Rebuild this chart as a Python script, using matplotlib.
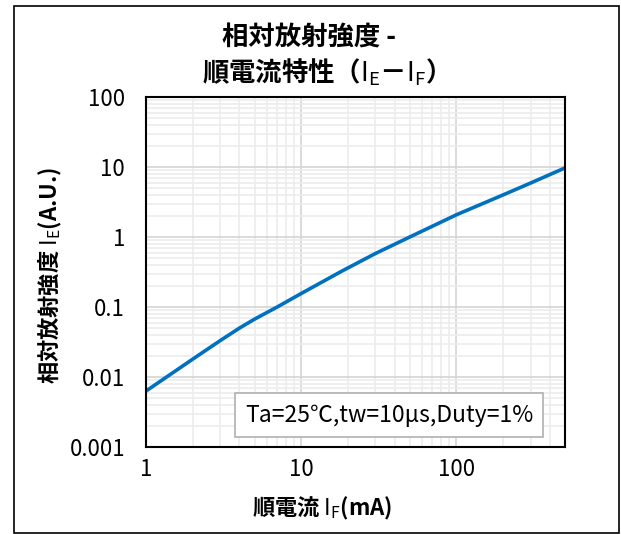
import matplotlib
matplotlib.use("Agg")
import matplotlib.pyplot as plt
from matplotlib.ticker import LogLocator, FixedLocator, FixedFormatter, NullFormatter
from matplotlib.patches import Rectangle

plt.rcParams['font.family'] = ['Noto Sans CJK JP', 'DejaVu Sans']
plt.rcParams['mathtext.fontset'] = 'custom'
plt.rcParams['mathtext.rm'] = 'Noto Sans CJK JP'

# 順電流 IF (mA) と 相対放射強度 IE (A.U.)
if_ma = [1, 2, 3, 4, 5, 7, 10, 18, 30, 50, 100, 200, 300, 500]
ie_au = [0.0063, 0.018, 0.033, 0.05, 0.067, 0.1, 0.156, 0.32, 0.58, 1.0, 2.08, 4.0, 5.9, 9.7]

x_ticks = [1, 10, 100]
x_labels = ["1", "10", "100"]
y_ticks = [0.001, 0.01, 0.1, 1, 10, 100]
y_labels = ["0.001", "0.01", "0.1", "1", "10", "100"]

fig = plt.figure(figsize=(6.21, 5.34), dpi=100)
# 外枠
fig.patches.append(Rectangle((14 / 621, 1 / 534), 605 / 621, 527 / 534,
                             transform=fig.transFigure, fill=False,
                             edgecolor='black', linewidth=1.2))

ax = fig.add_axes([146 / 621, 1 - 447 / 534, 419 / 621, 350 / 534])
ax.set_xscale('log')
ax.set_yscale('log')
ax.set_xlim(1, 500)
ax.set_ylim(0.001, 100)

ax.xaxis.set_major_locator(FixedLocator(x_ticks))
ax.xaxis.set_major_formatter(FixedFormatter(x_labels))
ax.yaxis.set_major_locator(FixedLocator(y_ticks))
ax.yaxis.set_major_formatter(FixedFormatter(y_labels))
ax.xaxis.set_minor_locator(LogLocator(base=10, subs=range(2, 10)))
ax.yaxis.set_minor_locator(LogLocator(base=10, subs=range(2, 10), numticks=20))
ax.xaxis.set_minor_formatter(NullFormatter())
ax.yaxis.set_minor_formatter(NullFormatter())

ax.grid(True, which='minor', color='#ececec', linewidth=1.2)
ax.grid(True, which='major', color='#d4d4d4', linewidth=1.2)
ax.tick_params(which='both', length=0, labelsize=16)
ax.tick_params(axis='y', pad=15)
ax.tick_params(axis='x', pad=8)
for s in ax.spines.values():
    s.set_linewidth(1.5)
    s.set_color('black')

ax.plot(if_ma, ie_au, color='#0070C0', linewidth=2.6, solid_capstyle='butt')

ax.text(0.58, 0.091, "Ta=25℃,tw=10μs,Duty=1%", transform=ax.transAxes,
        ha='center', va='center', fontsize=16.5,
        bbox=dict(boxstyle='square,pad=0.45', facecolor='white',
                  edgecolor='#b0b0b0', linewidth=1.2))

fig.text(309 / 621, 1 - 38 / 534, "相対放射強度 -", ha='center', va='center',
         fontsize=19, fontweight='bold')
fig.text(319 / 621, 1 - 72 / 534, r"順電流特性（$\mathrm{I_E}$－$\mathrm{I_F}$）",
         ha='center', va='center', fontsize=19, fontweight='bold')

fig.text(322 / 621, 1 - 508 / 534, r"順電流 $\mathrm{I_F}$(mA)",
         ha='center', va='center', fontsize=16, fontweight='bold')
fig.text(50 / 621, 1 - 275 / 534, r"相対放射強度 $\mathrm{I_E}$(A.U.)",
         ha='center', va='center', rotation=90, fontsize=16, fontweight='bold')

fig.savefig("out.png", dpi=100)
